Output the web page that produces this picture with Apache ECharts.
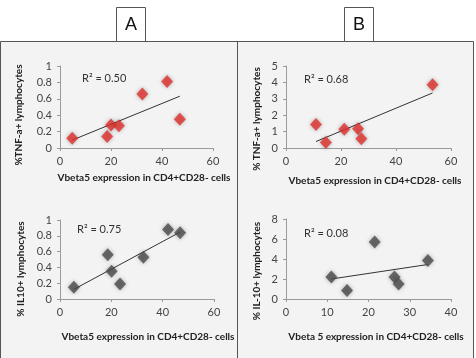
<!DOCTYPE html>
<html>
<head>
<meta charset="UTF-8">
<title>Vbeta5 相关</title>
<script src="https://cdn.jsdelivr.net/npm/echarts@6/dist/echarts.min.js"></script>
<style>
  body{margin:0;background:#fff;}
  #main{width:476px;height:358px;}
</style>
</head>
<body>
<div id="main"></div>
<script>
// A 上：TNF-a
var aTnfX = [4.8, 18.5, 20.0, 23.1, 32.3, 42.0, 47.0];
var aTnfY = [0.12, 0.14, 0.28, 0.27, 0.66, 0.81, 0.35];
// B 上：TNF-a
var bTnfX = [10.9, 14.5, 21.2, 26.2, 27.4, 53.3];
var bTnfY = [1.44, 0.33, 1.14, 1.18, 0.57, 3.86];
// A 下：IL10
var aIlX = [5.4, 18.6, 20.1, 23.4, 32.5, 42.1, 46.8];
var aIlY = [0.15, 0.56, 0.35, 0.19, 0.53, 0.88, 0.84];
// B 下：IL-10
var bIlX = [11.0, 14.8, 21.5, 26.3, 27.3, 34.4];
var bIlY = [2.2, 0.85, 5.7, 2.2, 1.5, 3.85];

var r2Labels = ['R² = 0.50', 'R² = 0.68', 'R² = 0.75', 'R² = 0.08'];
var yNames = ['%TNF-a+ lymphocytes', '% TNF-a+ lymphocytes', '% IL10+ lymphocytes', '% IL-10+ lymphocytes'];
var xNames = ['Vbeta5 expression in CD4+CD28- cells', 'Vbeta5 expression in CD4+CD28- cells',
              'Vbeta5 expression in CD4+CD28- cells', 'Vbeta 5 expression in CD4+CD28- cells'];
var yMax = [1, 5, 1, 8];
var yStep = [0.2, 1, 0.2, 2];
var xMax = [60, 60, 60, 40];
var xStep = [20, 20, 20, 10];

var font = 'Lato, "Liberation Sans", sans-serif';

function pairs(xs, ys){
    var out = [];
    for (var i = 0; i < xs.length; i++) out.push([xs[i], ys[i]]);
    return out;
}
// 最小二乘趋势线
function trend(xs, ys){
    var n = xs.length, mx = 0, my = 0;
    for (var i = 0; i < n; i++){ mx += xs[i]; my += ys[i]; }
    mx /= n; my /= n;
    var sxy = 0, sxx = 0;
    for (var i = 0; i < n; i++){ sxy += (xs[i]-mx)*(ys[i]-my); sxx += (xs[i]-mx)*(xs[i]-mx); }
    var k = sxy / sxx, b = my - k*mx;
    var x0 = Math.min.apply(null, xs), x1 = Math.max.apply(null, xs);
    return [[x0, k*x0+b], [x1, k*x1+b]];
}

var sets = [[aTnfX, aTnfY], [bTnfX, bTnfY], [aIlX, aIlY], [bIlX, bIlY]];
var colors = ['#e0302c', '#e0302c', '#4a4a4a', '#4a4a4a'];
var grids = [
    {left: 60, top: 66, width: 153, height: 82},
    {left: 286, top: 66, width: 165, height: 82},
    {left: 60, top: 220, width: 154, height: 79},
    {left: 286, top: 219, width: 165, height: 80}
];

var xAxes = [], yAxes = [], series = [];
for (var i = 0; i < 4; i++){
    xAxes.push({
        type: 'value', gridIndex: i, min: 0, max: xMax[i], interval: xStep[i],
        axisLine: {lineStyle: {color: '#9a9a9a'}},
        axisTick: {show: true, length: 3, lineStyle: {color: '#9a9a9a'}},
        axisLabel: {color: '#444', fontSize: 11, fontFamily: font, margin: 8},
        splitLine: {show: false}
    });
    yAxes.push({
        type: 'value', gridIndex: i, min: 0, max: yMax[i], interval: yStep[i],
        axisLine: {show: true, lineStyle: {color: '#9a9a9a'}},
        axisTick: {show: true, length: 3, lineStyle: {color: '#9a9a9a'}},
        axisLabel: {color: '#444', fontSize: 11, fontFamily: font, margin: 8},
        splitLine: {show: false}
    });
    series.push({
        type: 'line', xAxisIndex: i, yAxisIndex: i,
        data: trend(sets[i][0], sets[i][1]),
        symbol: 'none', lineStyle: {color: '#333', width: 1}, z: 3
    });
    series.push({
        type: 'scatter', xAxisIndex: i, yAxisIndex: i,
        data: pairs(sets[i][0], sets[i][1]),
        symbol: 'diamond', symbolSize: [12, 13],
        itemStyle: {color: colors[i], shadowBlur: 4, shadowColor: 'rgba(0,0,0,0.35)'},
        z: 4
    });
}

var nameStyle = {fill: '#222', font: 'bold 10px ' + font};
var graphic = [
    {type: 'rect', z: -10, shape: {x: 0.5, y: 41.5, width: 473, height: 330},
     style: {fill: '#f3f3f3', stroke: '#555', lineWidth: 1}},
    {type: 'line', z: -9, shape: {x1: 237.5, y1: 41, x2: 237.5, y2: 358},
     style: {stroke: '#555', lineWidth: 1}},
    {type: 'rect', shape: {x: 116.5, y: 7.5, width: 29, height: 34}, style: {fill: '#fff', stroke: '#555', lineWidth: 1}},
    {type: 'rect', shape: {x: 344.5, y: 7.5, width: 29, height: 34}, style: {fill: '#fff', stroke: '#555', lineWidth: 1}},
    {type: 'text', x: 131, y: 25, style: {text: 'A', fill: '#111', font: '18px "Liberation Sans", sans-serif', textAlign: 'center', textVerticalAlign: 'middle'}},
    {type: 'text', x: 359, y: 25, style: {text: 'B', fill: '#111', font: '18px "Liberation Sans", sans-serif', textAlign: 'center', textVerticalAlign: 'middle'}}
];
var r2Pos = [[82, 78], [304, 79], [77, 229], [304, 233]];
var xNamePos = [[144, 178], [375, 181], [148, 337], [376, 337]];
var yNamePos = [[19, 115], [257, 119], [21, 269], [257, 271]];
for (var i = 0; i < 4; i++){
    graphic.push({type: 'text', x: r2Pos[i][0], y: r2Pos[i][1],
        style: {text: r2Labels[i], fill: '#333', font: '11px ' + font, textVerticalAlign: 'middle'}});
    graphic.push({type: 'text', x: xNamePos[i][0], y: xNamePos[i][1],
        style: {text: xNames[i], fill: nameStyle.fill, font: nameStyle.font, textAlign: 'center', textVerticalAlign: 'middle'}});
    graphic.push({type: 'text', x: yNamePos[i][0], y: yNamePos[i][1], rotation: Math.PI / 2,
        style: {text: yNames[i], fill: nameStyle.fill, font: nameStyle.font, textAlign: 'center', textVerticalAlign: 'middle'}});
}

var myChart = echarts.init(document.getElementById('main'), null, {renderer: 'canvas'});
myChart.setOption({
    backgroundColor: '#fff',
    animation: false,
    grid: grids,
    xAxis: xAxes,
    yAxis: yAxes,
    series: series,
    graphic: graphic
});
</script>
</body>
</html>
